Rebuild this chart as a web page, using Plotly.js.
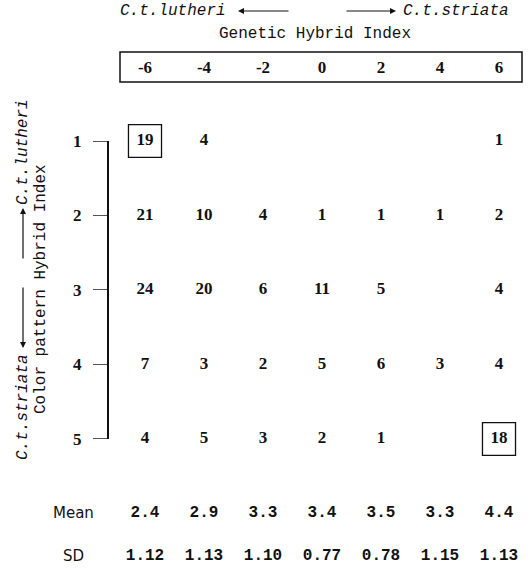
<!DOCTYPE html>
<html><head><meta charset="utf-8">
<script src="https://cdn.plot.ly/plotly-3.0.1.min.js"></script>
<style>html,body{margin:0;padding:0;background:#fff}</style>
</head><body><div id="chart" style="width:532px;height:576px"></div>
<script>
// ---- data ----
const geneticIndex = [-6, -4, -2, 0, 2, 4, 6];
const geneticLabels = ['-6', '-4', '-2', '0', '2', '4', '6'];
const colorIndex = [1, 2, 3, 4, 5];
const colorLabels = ['1', '2', '3', '4', '5'];
const row1 = [19, 4, null, null, null, null, 1];
const row2 = [21, 10, 4, 1, 1, 1, 2];
const row3 = [24, 20, 6, 11, 5, null, 4];
const row4 = [7, 3, 2, 5, 6, 3, 4];
const row5 = [4, 5, 3, 2, 1, null, 18];
const meanValues = [2.4, 2.9, 3.3, 3.4, 3.5, 3.3, 4.4];
const sdValues = [1.12, 1.13, 1.10, 0.77, 0.78, 1.15, 1.13];
const highlighted = [[-6, 1], [6, 5]];

// ---- layout helpers ----
const MEAN_ROW = 6.0, SD_ROW = 6.57;
const rows = [row1, row2, row3, row4, row5];
const W = 532, H = 576, ML = 108, MR = 10, MT = 82, MB = 10;
const PW = W - ML - MR, PH = H - MT - MB;
const px2paperX = p => (p - ML) / PW;
const px2paperY = p => 1 - (p - MT) / PH;

const cx = [], cy = [], ct = [];
rows.forEach((r, i) => r.forEach((v, j) => {
  if (v !== null) { cx.push(geneticIndex[j]); cy.push(colorIndex[i]); ct.push(String(v)); }
}));

const numFont = {family: 'Liberation Serif', size: 17, color: '#111', weight: 'bold'};
const monoBold = {family: 'Liberation Mono', size: 16, color: '#111', weight: 'bold'};
const labelFont = {family: 'Liberation Mono', size: 16, color: '#111'};
const italFont = {family: 'Liberation Mono', size: 16, color: '#111', style: 'italic'};

const traces = [
  {type: 'scatter', mode: 'text', x: cx, y: cy, text: ct, textfont: numFont,
   textposition: 'middle center', hoverinfo: 'skip', showlegend: false, cliponaxis: false},
  {type: 'scatter', mode: 'text', x: geneticIndex, y: geneticIndex.map(() => MEAN_ROW),
   text: meanValues.map(v => v.toFixed(1)), textfont: monoBold, textposition: 'middle center',
   hoverinfo: 'skip', showlegend: false, cliponaxis: false},
  {type: 'scatter', mode: 'text', x: geneticIndex, y: geneticIndex.map(() => SD_ROW),
   text: sdValues.map(v => v.toFixed(2)), textfont: monoBold, textposition: 'middle center',
   hoverinfo: 'skip', showlegend: false, cliponaxis: false}
];

const shapes = [
  {type: 'line', xref: 'paper', yref: 'y', x0: 0, x1: 0, y0: colorIndex[0], y1: colorIndex[colorIndex.length - 1],
   line: {color: '#111', width: 2}},
  {type: 'rect', xref: 'paper', yref: 'paper', x0: px2paperX(120), x1: 1, y0: 1, y1: px2paperY(52),
   line: {color: '#111', width: 1.5}}
];
highlighted.forEach(([hx, hy]) => shapes.push({
  type: 'rect', xref: 'x', yref: 'y', x0: hx - 0.56, x1: hx + 0.56, y0: hy - 0.22, y1: hy + 0.22,
  line: {color: '#111', width: 1.3}
}));

const arrow = (x, y, ax, ay) => ({xref: 'paper', yref: 'paper', x: x, y: y, ax: ax, ay: ay,
  axref: 'pixel', ayref: 'pixel', text: '', showarrow: true, arrowhead: 2, arrowsize: 1,
  arrowwidth: 1.2, arrowcolor: '#111'});
const label = (x, y, text, font, angle) => ({xref: 'paper', yref: 'paper', x: x, y: y, text: text,
  showarrow: false, xanchor: 'center', yanchor: 'middle', textangle: angle || 0, font: font});

const annotations = [
  label(px2paperX(173), px2paperY(11), 'C.t.lutheri', italFont),
  arrow(px2paperX(238), px2paperY(11), 52, 0),
  arrow(px2paperX(396), px2paperY(11), -51, 0),
  label(px2paperX(456), px2paperY(11), 'C.t.striata', italFont),
  label(px2paperX(23), px2paperY(407), 'C.t.striata', italFont, -90),
  arrow(px2paperX(23), px2paperY(348), 0, -62),
  arrow(px2paperX(23), px2paperY(208), 0, 52),
  label(px2paperX(23), px2paperY(152), 'C.t.lutheri', italFont, -90),
  label(px2paperX(41), px2paperY(289), 'Color pattern Hybrid Index', labelFont, -90),
  {xref: 'paper', yref: 'y', x: px2paperX(73), y: MEAN_ROW, text: 'Mean', showarrow: false,
   xanchor: 'center', yanchor: 'middle', font: {family: 'DejaVu Sans', size: 15, color: '#111'}},
  {xref: 'paper', yref: 'y', x: px2paperX(73), y: SD_ROW, text: 'SD', showarrow: false,
   xanchor: 'center', yanchor: 'middle', font: {family: 'DejaVu Sans', size: 15, color: '#111'}}
];

const layout = {
  width: W, height: H,
  margin: {l: ML, r: MR, t: MT, b: MB, pad: 0},
  paper_bgcolor: '#fff', plot_bgcolor: '#fff',
  showlegend: false,
  xaxis: {range: [-7.254, 6.78], side: 'top', tickvals: geneticIndex, ticktext: geneticLabels,
    ticks: '', showgrid: false, zeroline: false, showline: false, tickfont: numFont,
    ticklabelstandoff: 5, fixedrange: true,
    title: {text: 'Genetic Hybrid Index', font: labelFont, standoff: 14}},
  yaxis: {range: [6.705, 0.208], tickvals: colorIndex, ticktext: colorLabels,
    ticks: 'outside', ticklen: 14, tickwidth: 1, tickcolor: '#555',
    showgrid: false, zeroline: false, showline: false, tickfont: numFont,
    ticklabelstandoff: 8, fixedrange: true},
  shapes: shapes,
  annotations: annotations
};

Plotly.newPlot('chart', traces, layout, {staticPlot: true, displayModeBar: false});
</script>
</body></html>
